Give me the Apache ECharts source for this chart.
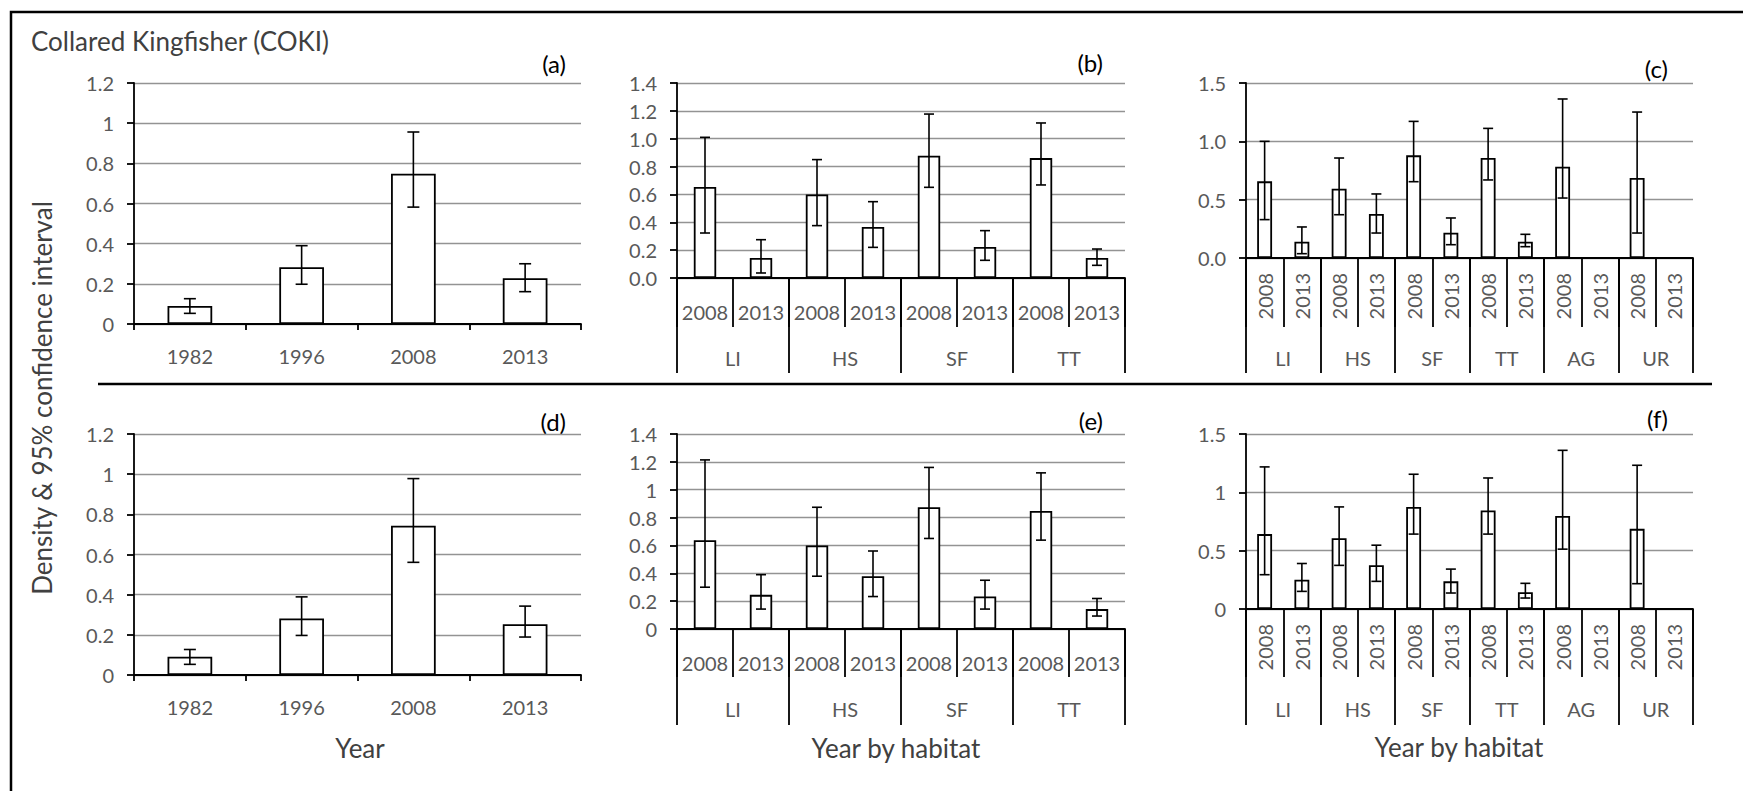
<!DOCTYPE html>
<html>
<head>
<meta charset="utf-8">
<script src="https://cdn.jsdelivr.net/npm/echarts@6/dist/echarts.min.js"></script>
<style>
html,body{margin:0;padding:0;background:#fff;}
#chart{width:1743px;height:791px;}
</style>
</head>
<body>
<div id="chart"></div>
<script>
// ---------------- DATA ----------------
const yearsA = ['1982', '1996', '2008', '2013'];
const surveyYears = ['2008', '2013'];
const habitats4 = ['LI', 'HS', 'SF', 'TT'];
const habitats6 = ['LI', 'HS', 'SF', 'TT', 'AG', 'UR'];

// (a)
const densA = [0.09, 0.283, 0.748, 0.228];
const lowA  = [0.053, 0.198, 0.582, 0.161];
const highA = [0.126, 0.39, 0.956, 0.30];
// (b)
const densB = [0.653, 0.144, 0.60, 0.366, 0.878, 0.223, 0.861, 0.144];
const lowB  = [0.323, 0.036, 0.376, 0.22, 0.651, 0.127, 0.668, 0.091];
const highB = [1.01, 0.275, 0.85, 0.548, 1.177, 0.34, 1.113, 0.208];
// (c)
const densC = [0.657, 0.14, 0.594, 0.377, 0.88, 0.217, 0.857, 0.14, 0.783, null, 0.686, null];
const lowC  = [0.329, 0.037, 0.371, 0.214, 0.654, 0.114, 0.669, 0.097, 0.514, null, 0.214, null];
const highC = [1.0, 0.266, 0.857, 0.549, 1.171, 0.343, 1.111, 0.203, 1.363, null, 1.251, null];
// (d)
const densD = [0.091, 0.281, 0.743, 0.253];
const lowD  = [0.053, 0.197, 0.561, 0.189];
const highD = [0.127, 0.389, 0.978, 0.343];
// (e)
const densE = [0.638, 0.245, 0.60, 0.379, 0.874, 0.233, 0.848, 0.143];
const lowE  = [0.30, 0.143, 0.379, 0.233, 0.65, 0.143, 0.638, 0.093];
const highE = [1.214, 0.39, 0.874, 0.56, 1.16, 0.35, 1.121, 0.219];
// (f)
const densF = [0.642, 0.251, 0.607, 0.376, 0.875, 0.237, 0.844, 0.143, 0.798, null, 0.687, null];
const lowF  = [0.294, 0.151, 0.374, 0.237, 0.642, 0.137, 0.642, 0.094, 0.513, null, 0.217, null];
const highF = [1.218, 0.39, 0.875, 0.547, 1.155, 0.342, 1.123, 0.22, 1.36, null, 1.232, null];

// y-axis scales (max, interval) and tick label formats
const yMaxes     = [1.2, 1.4, 1.5, 1.2, 1.4, 1.5];
const yIntervals = [0.2, 0.2, 0.5, 0.2, 0.2, 0.5];
const yDecimals  = [null, 1, 1, null, null, null];

const panelLetters = ['(a)', '(b)', '(c)', '(d)', '(e)', '(f)'];
const mainTitle = 'Collared Kingfisher (COKI)';
const yTitle = 'Density & 95% confidence interval';
const xTitles = ['Year', 'Year by habitat', 'Year by habitat'];

// ---------------- LAYOUT / STYLE ----------------
const FONT = 'Lato, "Open Sans", sans-serif';
const TICK_COLOR = '#595959';
const TXT_COLOR = '#404040';

const layouts = [
  {left:134,  top:83,  width:447, height:241, inner:{len:6,  margin:22, rotate:0}, outer:null, cap:12},
  {left:677,  top:83,  width:448, height:195, inner:{len:49, margin:24, rotate:0}, outer:{len:95, margin:70}, cap:10},
  {left:1246, top:83,  width:447, height:175, inner:{len:69, margin:15, rotate:90}, outer:{len:115, margin:90}, cap:10},
  {left:134,  top:434, width:447, height:241, inner:{len:6,  margin:22, rotate:0}, outer:null, cap:12},
  {left:677,  top:434, width:448, height:195, inner:{len:48, margin:24, rotate:0}, outer:{len:96, margin:70}, cap:10},
  {left:1246, top:434, width:447, height:175, inner:{len:68, margin:15, rotate:90}, outer:{len:116, margin:90}, cap:10}
];

const panelData = [
  {groups:null,      dens:densA, low:lowA, high:highA},
  {groups:habitats4, dens:densB, low:lowB, high:highB},
  {groups:habitats6, dens:densC, low:lowC, high:highC},
  {groups:null,      dens:densD, low:lowD, high:highD},
  {groups:habitats4, dens:densE, low:lowE, high:highE},
  {groups:habitats6, dens:densF, low:lowF, high:highF}
];

// ---------------- BUILD OPTION ----------------
const grids = [], xAxes = [], yAxes = [], series = [];
const black = {color:'#000', width:1.8};

panelData.forEach((p, i) => {
  const L = layouts[i];
  grids.push({left:L.left, top:L.top, width:L.width, height:L.height, containLabel:false});

  const cats = p.groups
    ? p.groups.flatMap(g => surveyYears.map(y => g + '|' + y))
    : yearsA;

  const innerIndex = xAxes.length;
  xAxes.push({
    gridIndex:i, type:'category', data:cats, position:'bottom', boundaryGap:true,
    axisLine:{show:true, lineStyle:black},
    axisTick:{show:true, interval:0, alignWithLabel:false, length:L.inner.len, lineStyle:black},
    axisLabel:{interval:0, margin:L.inner.margin, rotate:L.inner.rotate, color:TICK_COLOR,
      fontSize:20, fontFamily:FONT, formatter:v => v.split('|').pop()},
    splitLine:{show:false}
  });
  if (p.groups) {
    xAxes.push({
      gridIndex:i, type:'category', data:p.groups, position:'bottom', boundaryGap:true,
      axisLine:{show:false},
      axisTick:{show:true, interval:0, alignWithLabel:false, length:L.outer.len, lineStyle:black},
      axisLabel:{interval:0, margin:L.outer.margin, color:TICK_COLOR, fontSize:20, fontFamily:FONT},
      splitLine:{show:false}
    });
  }

  const dec = yDecimals[i];
  yAxes.push({
    gridIndex:i, type:'value', min:0, max:yMaxes[i], interval:yIntervals[i],
    axisLine:{show:true, lineStyle:black},
    axisTick:{show:true, length:7, lineStyle:black},
    axisLabel:{margin:20, color:TICK_COLOR, fontSize:20, fontFamily:FONT,
      formatter: v => dec == null ? String(+v.toFixed(2)) : v.toFixed(dec)},
    splitLine:{show:true, lineStyle:{color:'#939393', width:1.3}}
  });

  series.push({
    type:'bar', xAxisIndex:innerIndex, yAxisIndex:i, data:p.dens, barWidth:'40%',
    itemStyle:{color:'#ffffff', borderColor:'#000', borderWidth:1.8},
    silent:true, animation:false, z:2
  });

  const errData = [];
  p.dens.forEach((d, k) => { if (d != null) errData.push([k, p.low[k], p.high[k]]); });
  const cap = L.cap / 2;
  series.push({
    type:'custom', xAxisIndex:innerIndex, yAxisIndex:i, data:errData,
    encode:{x:0, y:[1, 2]}, silent:true, animation:false, z:3,
    renderItem:(params, api) => {
      const x = api.value(0);
      const lo = api.coord([x, api.value(1)]);
      const hi = api.coord([x, api.value(2)]);
      const st = {stroke:'#000', lineWidth:1.6};
      return {type:'group', children:[
        {type:'line', shape:{x1:lo[0], y1:lo[1], x2:hi[0], y2:hi[1]}, style:st},
        {type:'line', shape:{x1:hi[0]-cap, y1:hi[1], x2:hi[0]+cap, y2:hi[1]}, style:st},
        {type:'line', shape:{x1:lo[0]-cap, y1:lo[1], x2:lo[0]+cap, y2:lo[1]}, style:st}
      ]};
    }
  });
});

const letterPos = [[566,63],[1103,62],[1668,68],[566,421],[1103,420],[1668,418]];
const xTitlePos = [[360,748],[896,748],[1459,747]];

const graphics = [
  {type:'polyline', shape:{points:[[11,791],[11,12],[1743,12]]}, style:{fill:null, stroke:'#000', lineWidth:2.5}, silent:true},
  {type:'line', shape:{x1:98, y1:384, x2:1712, y2:384}, style:{stroke:'#000', lineWidth:2.5}, silent:true},
  {type:'text', x:31, y:41, silent:true,
    style:{text:mainTitle, font:'26px ' + FONT, fill:TXT_COLOR, align:'left', verticalAlign:'middle'}},
  {type:'text', x:42, y:398, rotation:Math.PI/2, silent:true,
    style:{text:yTitle, font:'26px ' + FONT, fill:TXT_COLOR, align:'center', verticalAlign:'middle'}}
];
panelLetters.forEach((t, i) => graphics.push({type:'text', x:letterPos[i][0], y:letterPos[i][1], silent:true,
  style:{text:t, font:'24px ' + FONT, fill:'#000', align:'right', verticalAlign:'middle'}}));
xTitles.forEach((t, i) => graphics.push({type:'text', x:xTitlePos[i][0], y:xTitlePos[i][1], silent:true,
  style:{text:t, font:'26px ' + FONT, fill:TXT_COLOR, align:'center', verticalAlign:'middle'}}));

const option = {
  animation:false,
  backgroundColor:'#ffffff',
  grid:grids, xAxis:xAxes, yAxis:yAxes, series:series,
  graphic:graphics
};

const chart = echarts.init(document.getElementById('chart'), null, {renderer:'svg'});
chart.setOption(option);
</script>
</body>
</html>
